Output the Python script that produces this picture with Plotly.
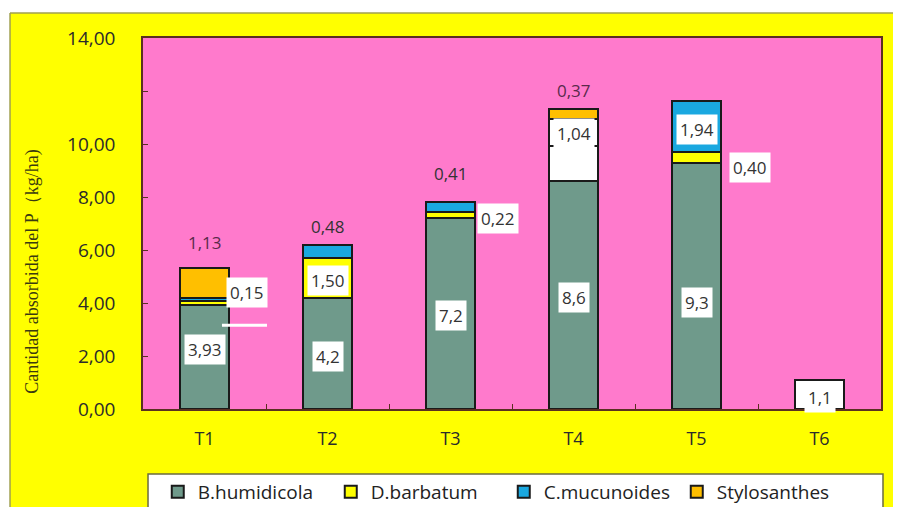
import plotly.graph_objects as go

# treatments and P uptake per species (kg/ha)
categories = ["T1", "T2", "T3", "T4", "T5", "T6"]
humidicola = [3.93, 4.2, 7.2, 8.6, 9.3, 1.1]
barbatum = [0.15, 1.50, 0.22, 1.31, 0.40, None]
mucunoides = [0.12, 0.48, 0.41, 1.04, 1.94, None]
stylosanthes = [1.13, None, None, 0.37, None, None]

humidicola_txt = ["3,93", "4,2", "7,2", "8,6", "9,3", "1,1"]
barbatum_txt = ["0,15", "1,50", "0,22", "", "0,40", ""]
mucunoides_txt = ["", "0,48", "0,41", "1,04", "1,94", ""]
stylosanthes_txt = ["1,13", "", "", "0,37", "", ""]

y_ticks = [0, 2, 4, 6, 8, 10, 12, 14]
y_ticktext = ["0,00", "2,00", "4,00", "6,00", "8,00", "10,00", "", "14,00"]

series = [
    ("B.humidicola", humidicola, humidicola_txt,
     ["#6f9a8b", "#6f9a8b", "#6f9a8b", "#6f9a8b", "#6f9a8b", "white"]),
    ("D.barbatum", barbatum, barbatum_txt,
     ["#ffff00", "#ffff00", "#ffff00", "white", "#ffff00", "#ffff00"]),
    ("C.mucunoides", mucunoides, mucunoides_txt,
     ["#1aa8e0", "#1aa8e0", "#1aa8e0", "white", "#1aa8e0", "#1aa8e0"]),
    ("Stylosanthes", stylosanthes, stylosanthes_txt, ["#ffbf00"] * 6),
]

# where each label sits: (mode, xshift, yshift)
placement = {
    "B.humidicola": [("in", 0, 7), ("in", 0, -3), ("in", 0, -2), ("in", 0, -2), ("in", 0, -17), ("in", 0, -3)],
    "D.barbatum": [("in", 42, 10), ("in", 0, -3), ("in", 47, -3), None, ("in", 53, -10), None],
    "C.mucunoides": [None, ("top", 0, 19), ("top", 0, 28), ("in", 0, -1), ("in", 0, -3), None],
    "Stylosanthes": [("top", 0, 25), None, None, ("top", 0, 19), None, None],
}

fig = go.Figure()
for name, vals, txt, cols in series:
    fig.add_trace(go.Bar(x=categories, y=vals, name=name, width=0.4,
                         marker=dict(color=cols, line=dict(color="#1a1a1a", width=2))))

totals = [sum(v[i] or 0 for _, v, _, _ in series) for i in range(len(categories))]
base = [0.0] * len(categories)
annotations = []
for name, vals, txt, cols in series:
    for i, v in enumerate(vals):
        if v is None:
            continue
        p = placement[name][i]
        if p and txt[i]:
            mode, dx, dy = p
            if mode == "in":
                y = base[i] + v / 2
                bg = "white"
            else:
                y = totals[i]
                bg = None
            annotations.append(dict(
                x=categories[i], y=y, xref="x", yref="y", text=txt[i], showarrow=False,
                xshift=dx, yshift=dy, bgcolor=bg, borderpad=3,
                font=dict(family="Open Sans", size=17,
                          color="#5a2a4a" if name == "Stylosanthes" else "#333333")))
        base[i] += v

annotations.append(dict(
    x=-0.149, y=0.37, xref="paper", yref="paper", text="Cantidad absorbida del P（kg/ha)",
    textangle=-90, showarrow=False, xanchor="center", yanchor="middle",
    font=dict(family="Liberation Serif", size=18, color="#3a3a10")))

shapes = [
    dict(type="rect", xref="paper", yref="paper", x0=-0.2, x1=1.1, y0=1.0674, y1=1.2,
         fillcolor="white", line=dict(width=0), layer="above"),
    dict(type="rect", xref="paper", yref="paper", x0=-0.25, x1=-0.1802, y0=-0.3, y1=1.2,
         fillcolor="white", line=dict(width=0), layer="above"),
    dict(type="line", xref="paper", yref="paper", x0=-0.1802, x1=1.1, y0=1.0674, y1=1.0674,
         line=dict(color="#a0a050", width=1.5), layer="above"),
    dict(type="line", xref="paper", yref="paper", x0=-0.1802, x1=-0.1802, y0=-0.3, y1=1.0674,
         line=dict(color="#a0a050", width=1.5), layer="above"),
    # legend frame
    dict(type="rect", xref="paper", yref="paper", x0=0.0068, x1=1.0027, y0=-0.32, y1=-0.175,
         fillcolor="white", line=dict(color="#6b6b40", width=1.5), layer="above"),
    # stray white stroke next to T1
    dict(type="line", xref="paper", yref="paper", x0=0.107, x1=0.168, y0=0.226, y1=0.226,
         line=dict(color="white", width=3), layer="above"),
]

# the page body adds an 8px offset, so the figure is 8px smaller
fig.update_layout(
    width=893, height=499,
    barmode="stack",
    paper_bgcolor="#ffff00",
    plot_bgcolor="#ff7acc",
    margin=dict(l=135, r=20, t=30, b=98, autoexpand=False),
    showlegend=True,
    legend=dict(orientation="h", x=0.02, y=-0.172, xanchor="left", yanchor="top",
                bgcolor="rgba(0,0,0,0)", entrywidth=128, entrywidthmode="pixels",
                font=dict(family="Open Sans", size=19, color="#222222"), traceorder="normal"),
    annotations=annotations,
    shapes=shapes,
    font=dict(family="Open Sans"),
)
fig.update_xaxes(type="category", showline=True, mirror=True, linecolor="#5a3020", linewidth=1.5,
                 ticks="inside", tickson="boundaries", ticklen=5, tickcolor="#5a3020",
                 ticklabelstandoff=13, tickfont=dict(family="Open Sans", size=18, color="#2b2b2b"),
                 showgrid=False, fixedrange=True)
fig.update_yaxes(range=[0, 14], tickvals=y_ticks, ticktext=y_ticktext, showline=True, mirror=True,
                 linecolor="#5a3020", linewidth=1.5, ticks="inside", ticklen=5, tickcolor="#5a3020",
                 ticklabelstandoff=22, tickfont=dict(family="Open Sans", size=19, color="#2b2b2b"),
                 showgrid=False, zeroline=False)

fig.write_html("out.html")
